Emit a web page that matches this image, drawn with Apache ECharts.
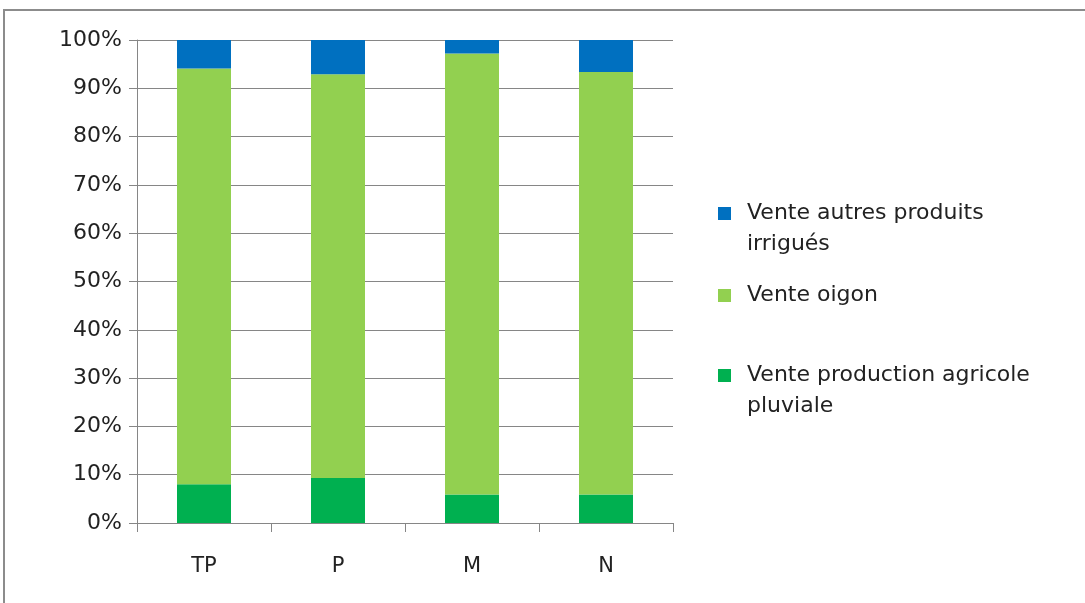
<!DOCTYPE html>
<html>
<head>
<meta charset="utf-8">
<script src="https://cdn.jsdelivr.net/npm/echarts@6/dist/echarts.min.js"></script>
<style>
  html, body { margin: 0; padding: 0; background: #fff; }
  #chart { width: 1085px; height: 603px; }
</style>
</head>
<body>
<div id="chart"></div>
<script>
// Share of sales income by farm group (percent of total)
const categories = ['TP', 'P', 'M', 'N'];
const ventePluviale = [8.0, 9.3, 5.9, 5.9];
const venteOignon = [86.1, 83.6, 91.3, 87.5];
const venteAutresIrrigues = [5.9, 7.1, 2.8, 6.6];
const yTicks = [0, 10, 20, 30, 40, 50, 60, 70, 80, 90, 100];

const names = {
  pluviale: 'Vente production agricole\npluviale',
  oignon: 'Vente oigon',
  irrigues: 'Vente autres produits\nirrigués'
};

const FONT = '"DejaVu Sans", sans-serif';
const TEXT = '#222';
const AXIS_GRAY = '#868686';
const LINE_H = 31;
const LEGEND_SIZE = 22;

const chart = echarts.init(document.getElementById('chart'), null, { renderer: 'canvas' });

// One legend block per entry; two-line entries get a blank leading line
// so the colour square lines up with the first line of text.
function legendFor(name, top) {
  const twoLines = name.indexOf('\n') >= 0;
  return {
    data: [name],
    orient: 'vertical',
    left: 713,
    top: top,
    icon: 'rect',
    itemWidth: 13,
    itemHeight: 13,
    itemGap: 0,
    selectedMode: false,
    formatter: n => (twoLines ? '\n' : '') +
      n.split('\n').map(line => '{t|' + line + '}').join('\n'),
    textStyle: {
      fontFamily: FONT,
      fontSize: LEGEND_SIZE,
      color: TEXT,
      lineHeight: LINE_H,
      rich: {
        t: {
          fontFamily: FONT,
          fontSize: LEGEND_SIZE,
          color: TEXT,
          lineHeight: LINE_H,
          padding: [0, 0, 0, 11]
        }
      }
    }
  };
}

const series = [
  { name: names.pluviale, data: ventePluviale, color: '#00B050' },
  { name: names.oignon, data: venteOignon, color: '#92D050' },
  { name: names.irrigues, data: venteAutresIrrigues, color: '#0070C0' }
].map(s => ({
  name: s.name,
  type: 'bar',
  stack: 'total',
  data: s.data,
  barWidth: 54,
  itemStyle: { color: s.color },
  emphasis: { disabled: true }
}));

chart.setOption({
  animation: false,
  backgroundColor: '#fff',
  graphic: [{
    type: 'rect',
    shape: { x: 4, y: 10, width: 1100, height: 620 },
    style: { fill: 'none', stroke: '#8c8c8c', lineWidth: 2 },
    silent: true
  }],
  legend: [
    legendFor(names.irrigues, 162),
    legendFor(names.oignon, 275),
    legendFor(names.pluviale, 324)
  ],
  grid: { left: 137, right: 412, top: 40, bottom: 80, containLabel: false },
  xAxis: {
    type: 'category',
    data: categories,
    boundaryGap: true,
    axisLine: { lineStyle: { color: AXIS_GRAY, width: 1 } },
    axisTick: { show: true, length: 9, alignWithLabel: false, lineStyle: { color: AXIS_GRAY } },
    axisLabel: { fontFamily: FONT, fontSize: 21, color: TEXT, margin: 33 }
  },
  yAxis: {
    type: 'value',
    min: yTicks[0],
    max: yTicks[yTicks.length - 1],
    interval: yTicks[1] - yTicks[0],
    axisLine: { show: true, lineStyle: { color: AXIS_GRAY, width: 1 } },
    axisTick: { show: true, length: 8, lineStyle: { color: AXIS_GRAY } },
    splitLine: { show: true, lineStyle: { color: AXIS_GRAY, width: 1 } },
    axisLabel: {
      fontFamily: FONT,
      fontSize: 22,
      color: TEXT,
      margin: 15,
      formatter: v => v + '%'
    }
  },
  series: series
});
</script>
</body>
</html>
